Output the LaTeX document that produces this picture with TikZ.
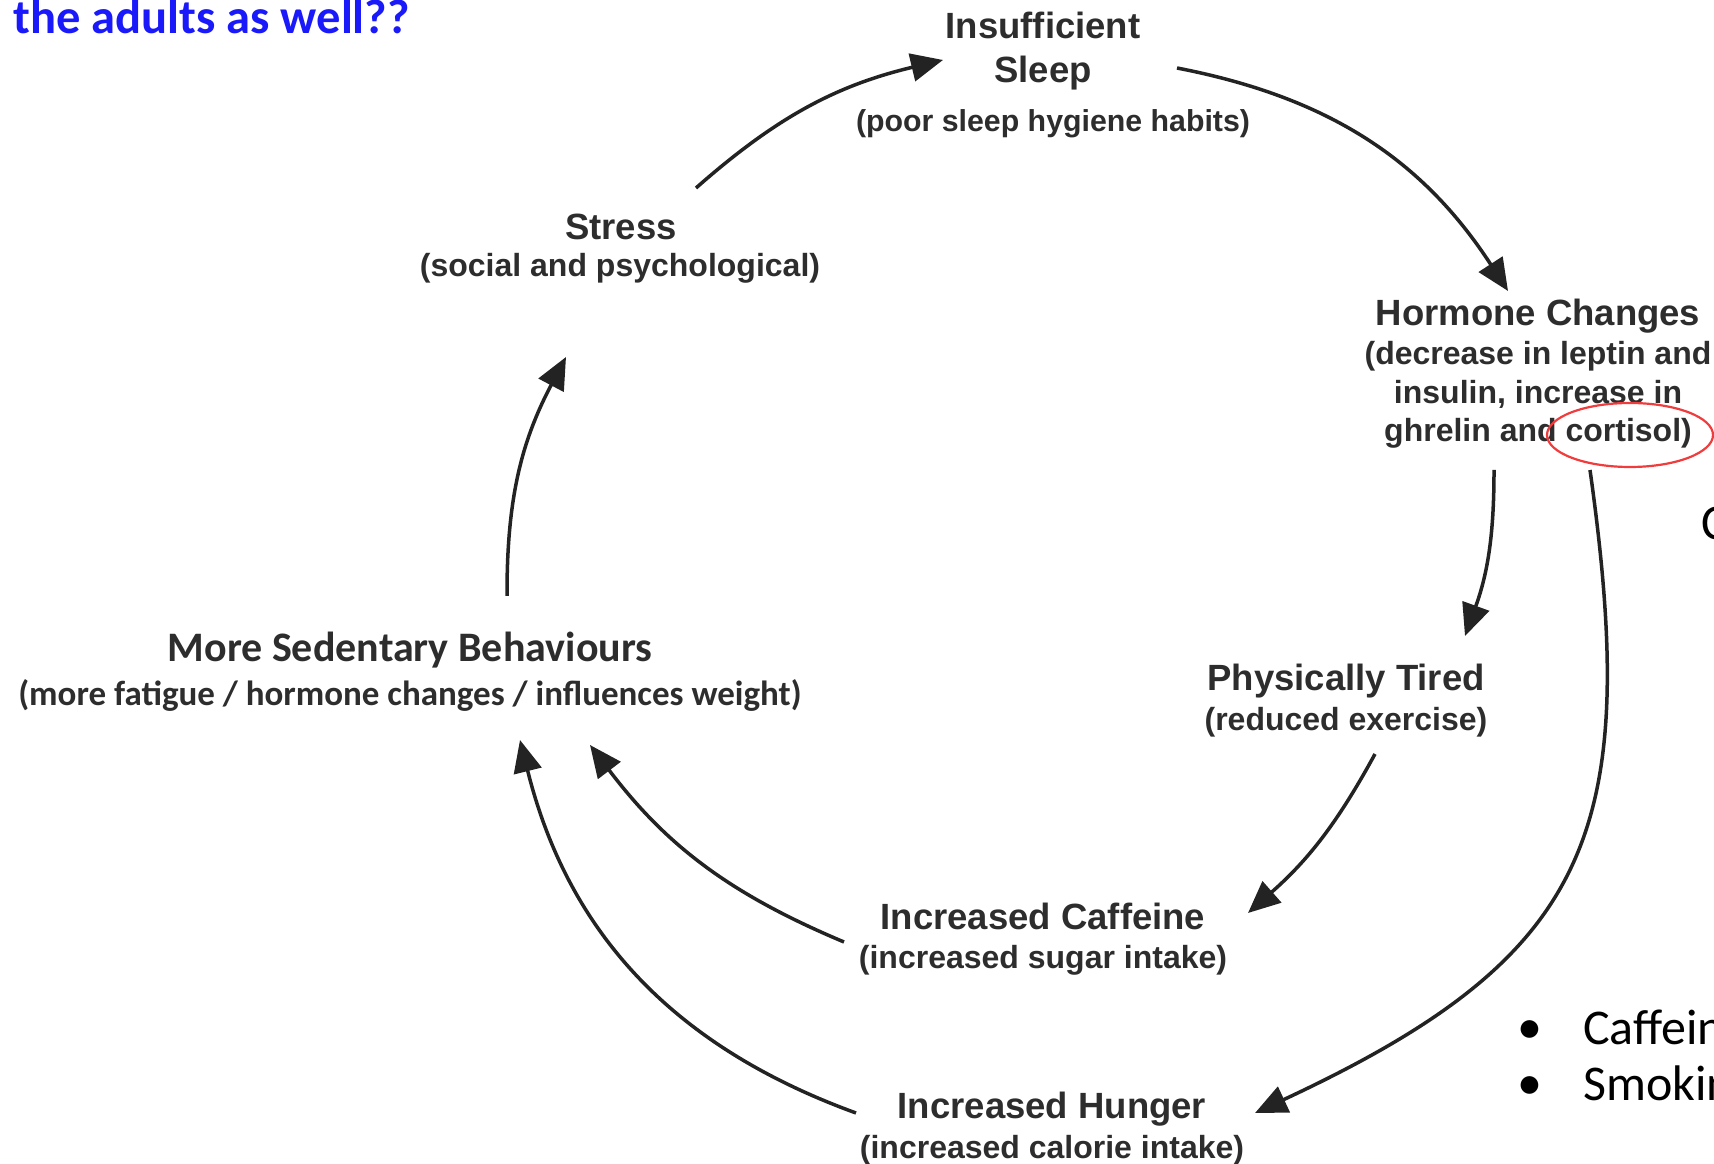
\documentclass[tikz,border=0pt]{standalone}
\usepackage{fontspec}
\setmainfont{Liberation Sans}
\newfontfamily\calibri{Carlito}
\usepackage{tikz}
\usetikzlibrary{arrows.meta}
\usepackage{xcolor}
\definecolor{inkgrey}{RGB}{45,45,45}
\definecolor{arrowgrey}{RGB}{35,35,35}
\definecolor{slideblue}{RGB}{25,25,250}
\definecolor{markred}{RGB}{240,60,60}

\tikzset{
  cyctitle/.style={font=\bfseries\fontsize{36.5}{44}\selectfont, text=inkgrey, align=center, inner sep=0pt},
  cycsub/.style={font=\bfseries\fontsize{32}{38.5}\selectfont, text=inkgrey, align=center, inner sep=0pt},
  sedtitle/.style={font=\calibri\bfseries\fontsize{42}{50}\selectfont, text=inkgrey, inner sep=0pt},
  sedsub/.style={font=\calibri\bfseries\fontsize{35}{42}\selectfont, text=inkgrey, inner sep=0pt},
  slidetext/.style={font=\calibri\fontsize{50}{60}\selectfont, text=black, inner sep=0pt},
  cycarrow/.style={draw=arrowgrey, line width=3.5pt, -{Triangle[length=32pt,width=28pt]}},
}

\begin{document}
\begin{tikzpicture}[x=1pt, y=1pt]
    \useasboundingbox (0,0) rectangle (1714,1164);
    % slide heading (cut off on the left)
    \node[font=\calibri\bfseries\fontsize{48.5}{58}\selectfont, text=slideblue, inner sep=0pt, anchor=base west]
      (heading) at (13,1130) {the adults as well??};
    % Cycle labels
    \node[cyctitle] (sleepT) at (1043,1113) {Insufficient\\Sleep};
    \node[cycsub, font=\bfseries\fontsize{30.3}{38}\selectfont, anchor=base] (sleepS) at (1053,1032) {(poor sleep hygiene habits)};
    \node[cyctitle, anchor=base] (stressT) at (621,924) {Stress};
    \node[cycsub, anchor=base] (stressS) at (620,887) {(social and psychological)};
    \node[cyctitle, anchor=base] (hormT) at (1538,838) {Hormone Changes};
    \node[cycsub] (hormS) at (1538,769) {(decrease in leptin and\\insulin, increase in\\ghrelin and cortisol)};
    \node[cyctitle, anchor=base] (tiredT) at (1346,473) {Physically Tired};
    \node[cycsub, anchor=base] (tiredS) at (1346,433) {(reduced exercise)};
    \node[cyctitle, anchor=base] (caffT) at (1043,234) {Increased Caffeine};
    \node[cycsub, anchor=base] (caffS) at (1043,195) {(increased sugar intake)};
    \node[cyctitle, anchor=base] (hungT) at (1052,45) {Increased Hunger};
    \node[cycsub, anchor=base] (hungS) at (1052,5) {(increased calorie intake)};
    \node[sedtitle, anchor=base] (sedT) at (410,502) {More Sedentary Behaviours};
    \node[sedsub, anchor=base] (sedS) at (410,458) {(more fatigue / hormone changes / influences weight)};
    % red mark round cortisol
    \draw[markred, line width=2.2pt] (1630,729) ellipse [x radius=83, y radius=32];
    % Arrows of the cycle
    \draw[cycarrow] ([shift={(75,52)}]stressT.base) to[bend left=14] ([shift={(-100,-9)}]sleepT.center);
    \draw[cycarrow] ([shift={(134,-17)}]sleepT.center) to[bend left=23] ([shift={(-30,35)}]hormT.base);
    \draw[cycarrow] ([shift={(-44,-75)}]hormS.center) to[bend left=10] ([shift={(119,55)}]tiredT.base);
    \draw[cycarrow] ([shift={(52,-75)}]hormS.center) to[out=-82, in=25, looseness=1.3] ([shift={(203,6)}]hungT.base);
    \draw[cycarrow] ([shift={(29,-23)}]tiredS.base) to[bend left=10] ([shift={(205,17)}]caffT.base);
    \draw[cycarrow] ([shift={(-199,-12)}]caffT.base) to[bend left=15] ([shift={(180,-39)}]sedS.base);
    \draw[cycarrow] ([shift={(-196,6)}]hungT.base) to[bend left=28] ([shift={(110,-34)}]sedS.base);
    \draw[cycarrow] ([shift={(97,66)}]sedT.base) to[bend left=14] ([shift={(-54,-80)}]stressS.base);
    % slide text on the right (cut off)
    \node[slidetext, anchor=base west] (cutC) at (1701,624) {C};
    \node[slidetext, anchor=base] (dotA) at (1530,120) {•};
    \node[slidetext, anchor=base west] (listA) at (1583,119) {Caffeine};
    \node[slidetext, anchor=base] (dotB) at (1530,64) {•};
    \node[slidetext, anchor=base west] (listB) at (1583,63) {Smoking};
\end{tikzpicture}
\end{document}
